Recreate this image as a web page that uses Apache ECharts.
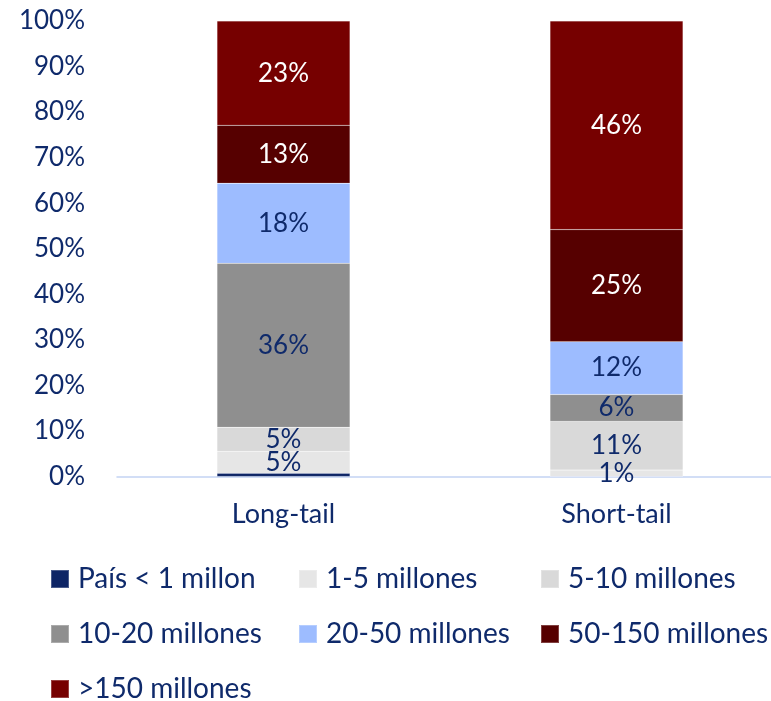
<!DOCTYPE html>
<html>
<head>
<meta charset="utf-8">
<style>
  html, body { margin: 0; padding: 0; background: #fff; }
  #chart { width: 771px; height: 701px; }
</style>
<script src="https://cdn.jsdelivr.net/npm/echarts@6/dist/echarts.min.js"></script>
</head>
<body>
<div id="chart"></div>
<script>
// categorias del eje x
var categories = ['Long-tail', 'Short-tail'];

// nombres de la leyenda / series (de abajo hacia arriba)
var seriesNames = ['País < 1 millon', '1-5 millones', '5-10 millones', '10-20 millones',
                   '20-50 millones', '50-150 millones', '>150 millones'];

// valores en % por serie: [Long-tail, Short-tail]
var paisMenos1 = [0.7, 0];
var de1a5 = [4.8, 1.4];
var de5a10 = [5.3, 10.7];
var de10a20 = [36.0, 5.9];
var de20a50 = [17.6, 11.6];
var de50a150 = [12.7, 24.6];
var mas150 = [22.9, 45.8];

var seriesValues = [paisMenos1, de1a5, de5a10, de10a20, de20a50, de50a150, mas150];

var yTicks = [0, 10, 20, 30, 40, 50, 60, 70, 80, 90, 100];

var colors = ['#0e2566', '#e6e6e6', '#d9d9d9', '#8f8f8f', '#9dbcff', '#560000', '#760000'];
var labelColors = ['#0f2a6b', '#0f2a6b', '#0f2a6b', '#0f2a6b', '#0f2a6b', '#ffffff', '#ffffff'];
var navy = '#0f2a6b';
var font = 'Lato';

var chart = echarts.init(document.getElementById('chart'));

var series = seriesNames.map(function (name, i) {
  return {
    name: name,
    type: 'bar',
    stack: 'total',
    barWidth: 133,
    itemStyle: { color: colors[i], borderColor: 'rgba(255,255,255,0.25)', borderWidth: 0.5 },
    label: {
      show: i > 0,
      position: 'inside',
      color: labelColors[i],
      fontFamily: font,
      fontSize: 26,
      formatter: function (p) { return Math.round(p.value) + '%'; }
    },
    data: seriesValues[i]
  };
});

// leyenda en 3 columnas
var legendPos = [
  [50, 565], [298, 565], [540, 565],
  [50, 620], [298, 620], [540, 620],
  [50, 675]
];
var legends = seriesNames.map(function (name, i) {
  return {
    data: [name],
    left: legendPos[i][0],
    top: legendPos[i][1],
    padding: 0,
    itemWidth: 18,
    itemHeight: 18,
    itemGap: 0,
    icon: 'rect',
    textStyle: { color: navy, fontFamily: font, fontSize: 28, padding: [0, 0, 0, 4] },
    selectedMode: false
  };
});

chart.setOption({
  animation: false,
  color: colors,
  grid: { left: 117, top: 21, width: 666, height: 455.5, outerBoundsMode: 'none' },
  legend: legends,
  xAxis: {
    type: 'category',
    data: categories,
    axisLine: { lineStyle: { color: '#c3d3f3', width: 1.5 } },
    axisTick: { show: false },
    axisLabel: { color: navy, fontFamily: font, fontSize: 27, margin: 24 }
  },
  yAxis: {
    type: 'value',
    min: yTicks[0],
    max: yTicks[yTicks.length - 1],
    interval: 10,
    splitLine: { show: false },
    axisLine: { show: false },
    axisTick: { show: false },
    axisLabel: { color: navy, fontFamily: font, fontSize: 26, margin: 32, formatter: '{value}%' }
  },
  series: series
});
</script>
</body>
</html>
